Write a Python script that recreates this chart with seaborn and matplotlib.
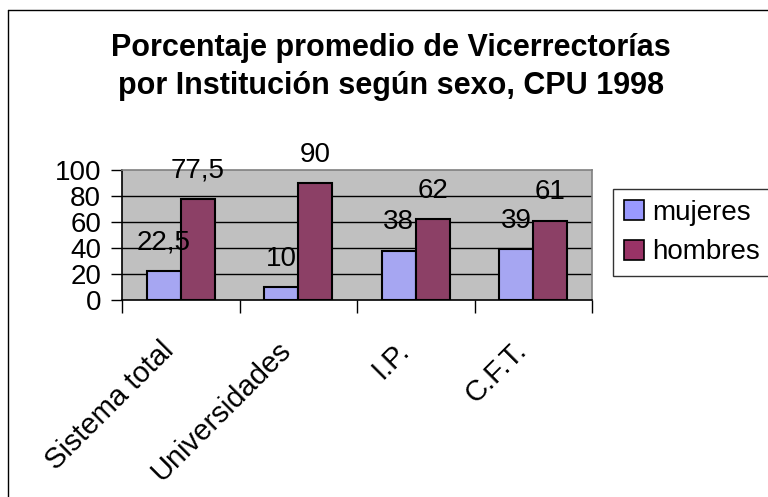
import matplotlib
matplotlib.use("Agg")
import matplotlib.pyplot as plt
import matplotlib.transforms as mtrans
import seaborn as sns
import pandas as pd
from matplotlib.lines import Line2D

categorias = ["Sistema total", "Universidades", "I.P.", "C.F.T."]
mujeres = [22.5, 10, 38, 39]
hombres = [77.5, 90, 62, 61]
etiquetas_m = ["22,5", "10", "38", "39"]
etiquetas_h = ["77,5", "90", "62", "61"]
series = ["mujeres", "hombres"]
yticks = [0, 20, 40, 60, 80, 100]

df = pd.DataFrame({
    "cat": categorias * 2,
    "sexo": ["mujeres"] * 4 + ["hombres"] * 4,
    "val": mujeres + hombres,
})

sns.set_theme(style="white")
plt.rcParams['font.family'] = ['Liberation Sans', 'DejaVu Sans']
plt.rcParams['text.color'] = 'black'
plt.rcParams['xtick.color'] = 'black'
plt.rcParams['ytick.color'] = 'black'

W, H = 768, 497
FS = 20
fig = plt.figure(figsize=(W / 100, H / 100), dpi=100)
ax = fig.add_axes([122 / W, 1 - 300 / H, (592 - 122) / W, (300 - 170) / H])
ax.set_facecolor("#C0C0C0")

sns.barplot(data=df, x="cat", y="val", hue="sexo", hue_order=series,
            palette={"mujeres": "#9999FF", "hombres": "#993366"},
            width=0.58, edgecolor="black", linewidth=1.5, ax=ax,
            legend=False, zorder=3)

ax.set_ylim(0, 100)
ax.set_xlim(-0.5, 3.5)
ax.set_yticks(yticks)
ax.set_yticklabels([str(v) for v in yticks], fontsize=FS)
for v in yticks[1:-1]:
    ax.axhline(v, color="black", linewidth=1, zorder=1)
ax.set_xlabel("")
ax.set_ylabel("")

ax.set_xticks([-0.5, 0.5, 1.5, 2.5, 3.5], minor=False)
ax.set_xticklabels([])
ax.tick_params(axis="x", which="major", direction="out", length=9, width=1, color="black", bottom=True)
ax.tick_params(axis="y", which="major", direction="out", length=8, width=1, color="black", left=True, pad=7)
ax.set_xticks(range(4), minor=True)
ax.set_xticklabels(categorias, minor=True, rotation=45, ha="right",
                   rotation_mode="anchor", fontsize=21)
ax.tick_params(axis="x", which="minor", length=0, pad=26)
shift = mtrans.ScaledTranslation(-0.21, 0, fig.dpi_scale_trans)
for lab in ax.get_xticklabels(minor=True):
    lab.set_transform(lab.get_transform() + shift)

for s in ["left", "bottom"]:
    ax.spines[s].set_color("black")
    ax.spines[s].set_linewidth(1.2)
for s in ["top", "right"]:
    ax.spines[s].set_color("#808080")
    ax.spines[s].set_linewidth(1.2)

for cont, labs in zip(ax.containers, [etiquetas_m, etiquetas_h]):
    ax.bar_label(cont, labels=labs, padding=11, fontsize=FS)

fig.text(391 / W, 1 - 48 / H, "Porcentaje promedio de Vicerrectorías",
         ha="center", va="center", fontsize=22, fontweight="bold")
fig.text(391 / W, 1 - 86 / H, "por Institución según sexo, CPU 1998",
         ha="center", va="center", fontsize=22, fontweight="bold")

handles = [plt.Rectangle((0, 0), 1, 1, facecolor="#9999FF", edgecolor="black", linewidth=1.2),
           plt.Rectangle((0, 0), 1, 1, facecolor="#993366", edgecolor="black", linewidth=1.2)]
leg = fig.legend(handles, series, loc="upper left",
                 bbox_to_anchor=(613 / W, 1 - 189 / H), fontsize=FS,
                 frameon=True, fancybox=False, edgecolor="black",
                 handlelength=0.72, handleheight=0.72, handletextpad=0.32,
                 borderpad=0.38, labelspacing=0.5, borderaxespad=0)
leg.get_frame().set_linewidth(1)

fig.add_artist(Line2D([8 / W, 8 / W], [0, 1 - 10 / H], transform=fig.transFigure, color="black", linewidth=1))
fig.add_artist(Line2D([8 / W, 1], [1 - 10 / H, 1 - 10 / H], transform=fig.transFigure, color="black", linewidth=1))

fig.savefig("out.png", dpi=100, facecolor="white")
